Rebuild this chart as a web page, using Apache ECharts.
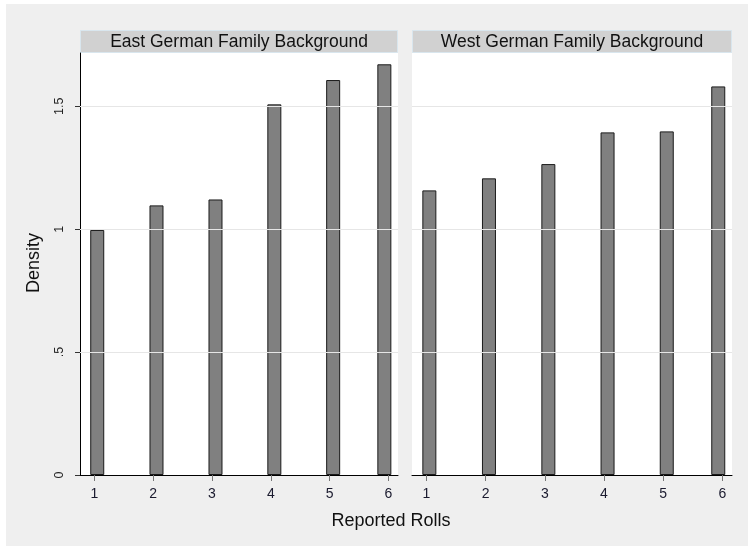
<!DOCTYPE html>
<html>
<head>
<meta charset="utf-8">
<script src="https://cdn.jsdelivr.net/npm/echarts@6/dist/echarts.min.js"></script>
<style>
  html, body { margin: 0; padding: 0; background: #ffffff; }
  #chart { width: 748px; height: 546px; }
</style>
</head>
<body>
<div id="chart"></div>
<script>
// ---- data ----
const panelTitles = ['East German Family Background', 'West German Family Background'];
const rollTicks = [1, 2, 3, 4, 5, 6];
const rollTickLabels = ['1', '2', '3', '4', '5', '6'];
const binCenters = [1.05, 2.057, 3.06, 4.06, 5.06, 5.93];
const eastDensity = [0.997, 1.097, 1.121, 1.508, 1.607, 1.671];
const westDensity = [1.158, 1.207, 1.265, 1.394, 1.398, 1.581];
const densityTicks = [0, 0.5, 1, 1.5];
const densityTickLabels = ['0', '.5', '1', '1.5'];
const xTitle = 'Reported Rolls';
const yTitle = 'Density';

const FONT = 'Liberation Sans, Arial, sans-serif';
const chart = echarts.init(document.getElementById('chart'), null, { renderer: 'canvas' });

const grids = [
  { left: 80, top: 53, width: 318, height: 422 },
  { left: 412, top: 53, width: 320, height: 422 }
];

function xAxis(i) {
  return {
    type: 'value', gridIndex: i, min: 0.757, max: 6.162,
    axisLine: { show: true, onZero: false, lineStyle: { color: '#000', width: 1 } },
    axisTick: { show: true, customValues: rollTicks, length: 6, lineStyle: { color: '#777' } },
    axisLabel: {
      customValues: rollTicks, margin: 12,
      formatter: v => rollTickLabels[rollTicks.indexOf(v)] ?? '',
      color: '#1a1a2e', fontFamily: FONT, fontSize: 14
    },
    splitLine: { show: false }
  };
}
function yAxis(i) {
  return {
    type: 'value', gridIndex: i, min: 0, max: 1.717,
    axisLine: { show: i === 0, lineStyle: { color: '#000', width: 1 } },
    axisTick: { show: i === 0, customValues: densityTicks, length: 5, lineStyle: { color: '#333' } },
    axisLabel: {
      show: i === 0, customValues: densityTicks, rotate: 90, margin: 14,
      formatter: v => densityTickLabels[densityTicks.indexOf(v)] ?? '',
      color: '#222', fontFamily: FONT, fontSize: 12.5
    },
    splitLine: { show: false }
  };
}
function gridLines(i) {
  return {
    type: 'line', xAxisIndex: i, yAxisIndex: i, data: [], silent: true,
    markLine: {
      symbol: 'none', silent: true, label: { show: false },
      lineStyle: { color: '#e6e6e6', width: 1, type: 'solid' },
      data: densityTicks.filter(v => v > 0).map(v => ({ yAxis: v }))
    }
  };
}
function bars(i, vals) {
  return {
    type: 'bar', xAxisIndex: i, yAxisIndex: i, barWidth: 14, z: 3,
    data: binCenters.map((x, k) => [x, vals[k]]),
    itemStyle: { color: '#808080', borderColor: '#1a1a1a', borderWidth: 1 }
  };
}

chart.setOption({
  backgroundColor: '#ffffff',
  animation: false,
  grid: grids,
  xAxis: [xAxis(0), xAxis(1)],
  yAxis: [yAxis(0), yAxis(1)],
  series: [gridLines(0), gridLines(1), bars(0, eastDensity), bars(1, westDensity)],
  graphic: [
    { type: 'rect', z: -10, silent: true, shape: { x: 6, y: 4, width: 742, height: 542 }, style: { fill: '#efefef' } },
    { type: 'rect', z: -9, silent: true, shape: { x: 80, y: 53, width: 318, height: 422 }, style: { fill: '#ffffff' } },
    { type: 'rect', z: -9, silent: true, shape: { x: 412, y: 53, width: 320, height: 422 }, style: { fill: '#ffffff' } },
    { type: 'rect', silent: true, shape: { x: 80.5, y: 30.5, width: 317, height: 22 }, style: { fill: '#d1d1d1', stroke: '#d9e6ee', lineWidth: 1 } },
    { type: 'rect', silent: true, shape: { x: 412.5, y: 30.5, width: 319, height: 22 }, style: { fill: '#d1d1d1', stroke: '#d9e6ee', lineWidth: 1 } },
    { type: 'text', silent: true, x: 239, y: 42, style: { text: panelTitles[0], fill: '#111', font: '17.5px ' + FONT, align: 'center', verticalAlign: 'middle' } },
    { type: 'text', silent: true, x: 572, y: 42, style: { text: panelTitles[1], fill: '#111', font: '17.5px ' + FONT, align: 'center', verticalAlign: 'middle' } },
    { type: 'text', silent: true, x: 391, y: 521, style: { text: xTitle, fill: '#111', font: '18px ' + FONT, align: 'center', verticalAlign: 'middle' } },
    { type: 'text', silent: true, x: 34, y: 263, rotation: Math.PI / 2, style: { text: yTitle, fill: '#111', font: '18px ' + FONT, align: 'center', verticalAlign: 'middle' } }
  ]
});
</script>
</body>
</html>
